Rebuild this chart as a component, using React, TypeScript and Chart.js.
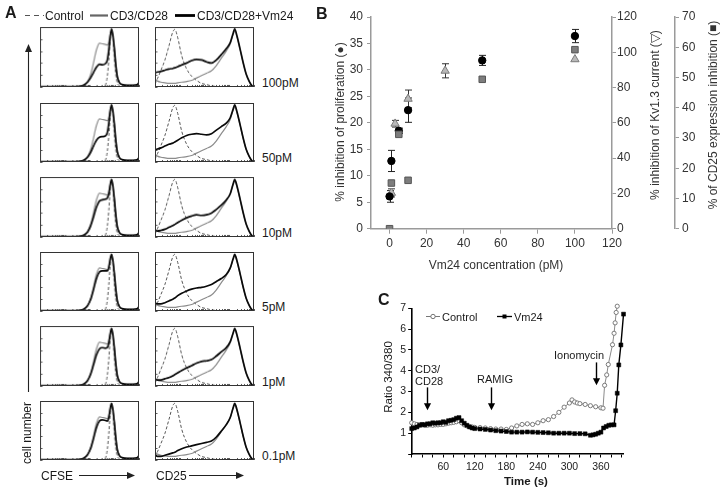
import React, { useEffect, useRef } from "react";
import { Chart, registerables } from "chart.js";
Chart.register(...registerables);

const FONT = "'Liberation Sans', Arial, Helvetica, sans-serif";

// ---------------- Panel A: flow cytometry histograms ----------------
const doseLabels = ["100pM", "50pM", "10pM", "5pM", "1pM", "0.1pM"];
const cfseChannels = [0, 200, 400, 440, 480, 510, 540, 570, 600, 630, 660, 680, 695, 710, 722, 735, 750, 765, 780, 800, 830, 880, 940, 985, 1000];
const cfseControl = [0, 0, 0, 0, 0, 0, 0, 0, 0, 0, 3, 18, 45, 80, 96, 82, 50, 22, 7, 2, 0.5, 0.3, 0.3, 0.3, 0.3];
const cfseStim = [0.5, 0.5, 1, 3, 9, 20, 40, 62, 73, 72, 71, 70, 75, 88, 94, 86, 65, 38, 18, 8, 4, 3, 3, 4, 9];
const cfseVm24_100pM = [0.5, 0.5, 1, 3, 8, 15, 24, 33, 38, 37, 39, 45, 62, 86, 97, 88, 66, 38, 18, 8, 4, 3, 3, 4, 8];
const cfseVm24_50pM = [0.5, 0.5, 1, 3, 8, 16, 27, 37, 42, 43, 44, 50, 66, 88, 97, 88, 66, 38, 18, 8, 4, 3, 3, 4, 8];
const cfseVm24_10pM = [0.5, 0.5, 1, 3, 8, 18, 33, 50, 60, 62, 63, 65, 72, 88, 96, 87, 65, 38, 18, 8, 4, 3, 3, 4, 8];
const cfseVm24_5pM = [0.5, 0.5, 1, 3, 9, 19, 36, 55, 66, 68, 68, 68, 74, 89, 96, 87, 65, 38, 18, 8, 4, 3, 3, 4, 8];
const cfseVm24_1pM = [0.5, 0.5, 1, 3, 9, 19, 35, 52, 62, 64, 63, 64, 72, 88, 96, 87, 65, 38, 18, 8, 4, 3, 3, 4, 8];
const cfseVm24_01pM = [0.5, 0.5, 1, 3, 9, 19, 36, 55, 66, 68, 67, 66, 72, 88, 96, 87, 65, 38, 18, 8, 4, 3, 3, 4, 8];

const cd25Channels = [0, 25, 60, 100, 140, 180, 200, 230, 270, 320, 370, 420, 470, 520, 570, 620, 670, 720, 760, 790, 805, 830, 860, 890, 920, 950, 975, 1000];
const cd25Control = [5, 14, 28, 45, 68, 92, 96, 82, 52, 30, 18, 11, 6, 4, 2, 1, 0.5, 0.3, 0.3, 0.3, 0.3, 0.3, 0.3, 0.3, 0.3, 0.3, 0.3, 0];
const cd25Stim = [13, 10, 8, 7, 6, 6, 6, 7, 8, 9, 11, 15, 19, 23, 27, 36, 48, 60, 72, 88, 93, 82, 62, 40, 22, 10, 3, 0];
const cd25Vm24_100pM = [24, 25, 26, 28, 30, 31, 32, 34, 37, 40, 44, 46, 45, 42, 40, 45, 54, 64, 74, 90, 97, 84, 63, 41, 22, 10, 3, 0];
const cd25Vm24_50pM = [21, 22, 24, 27, 30, 32, 34, 37, 41, 45, 47, 48, 47, 46, 48, 54, 60, 66, 75, 90, 97, 84, 63, 41, 22, 10, 3, 0];
const cd25Vm24_10pM = [11, 10, 11, 13, 16, 19, 21, 24, 28, 32, 35, 37, 36, 37, 40, 46, 53, 62, 72, 89, 96, 84, 63, 41, 22, 10, 3, 0];
const cd25Vm24_5pM = [14, 12, 12, 14, 17, 20, 22, 26, 30, 34, 37, 39, 40, 42, 45, 50, 55, 62, 73, 89, 96, 84, 63, 41, 22, 10, 3, 0];
const cd25Vm24_1pM = [11, 10, 10, 12, 14, 17, 19, 22, 26, 30, 34, 38, 41, 42, 44, 50, 57, 64, 74, 89, 96, 84, 63, 41, 22, 10, 3, 0];
const cd25Vm24_01pM = [9, 6, 6, 8, 10, 12, 13, 16, 19, 22, 24, 26, 28, 30, 32, 39, 49, 60, 72, 89, 96, 84, 63, 41, 22, 10, 3, 0];

const cfseVm24Rows = [cfseVm24_100pM, cfseVm24_50pM, cfseVm24_10pM, cfseVm24_5pM, cfseVm24_1pM, cfseVm24_01pM];
const cd25Vm24Rows = [cd25Vm24_100pM, cd25Vm24_50pM, cd25Vm24_10pM, cd25Vm24_5pM, cd25Vm24_1pM, cd25Vm24_01pM];
const histYTicks = [0, 20, 40, 60, 80, 100];
const histXTicks = [0, 75, 120, 150, 175, 195, 211, 226, 238, 250, 325, 370, 400, 425, 445, 461, 476, 488, 500, 575, 620, 650, 675, 695, 711, 726, 738, 750, 825, 870, 900, 925, 945, 961, 976, 988, 1000];

// ---------------- Panel B: dose response ----------------
const bXTicks = [0, 20, 40, 60, 80, 100, 120];
const prolifDose = [0, 1, 5, 10, 50, 100];
const prolifInhibition = [6.1, 12.8, 18.5, 22.4, 31.8, 36.4];
const prolifError = [1.1, 2.0, 0.5, 2.3, 0.95, 1.25];
const kvDose = [1, 3, 10, 30, 100];
const kvInhibition = [20.3, 59.5, 73.6, 89.5, 96];
const kvError = [2.3, 1.9, 5, 4, 0];
const cd25Dose = [0, 1, 5, 10, 50, 100];
const cd25Inhibition = [0, 15.1, 31.2, 16.0, 49.4, 59.2];

// ---------------- Panel C: calcium ratio ----------------
const ctrlTime = [0, 5, 10, 15, 20, 25, 30, 35, 40, 45, 50, 55, 60, 65, 70, 75, 80, 85, 90, 95, 100, 105, 110, 115, 120, 130, 140, 150, 160, 170, 180, 190, 200, 210, 220, 230, 240, 250, 260, 270, 280, 290, 300, 305, 310, 315, 320, 330, 340, 350, 360, 364, 367, 371, 374, 382, 385, 387, 389, 391];
const ctrlRatio = [1.5, 1.45, 1.42, 1.4, 1.4, 1.38, 1.38, 1.4, 1.38, 1.4, 1.4, 1.42, 1.42, 1.45, 1.48, 1.5, 1.52, 1.55, 1.6, 1.5, 1.4, 1.35, 1.32, 1.3, 1.28, 1.27, 1.25, 1.22, 1.2, 1.2, 1.18, 1.25, 1.35, 1.42, 1.45, 1.42, 1.5, 1.6, 1.65, 1.8, 2.0, 2.25, 2.45, 2.6, 2.5, 2.45, 2.42, 2.38, 2.32, 2.27, 2.22, 2.2, 3.3, 3.8, 4.3, 5.25, 5.8, 6.3, 6.8, 7.1];
const vmTime = [0, 5, 10, 15, 20, 25, 30, 35, 40, 45, 50, 55, 60, 65, 70, 75, 80, 85, 90, 95, 100, 105, 110, 115, 120, 130, 140, 150, 160, 170, 180, 190, 200, 210, 220, 230, 240, 250, 260, 270, 280, 290, 300, 310, 320, 330, 340, 345, 350, 355, 360, 365, 370, 375, 380, 385, 388, 391, 394, 398, 403];
const vmRatio = [1.22, 1.25, 1.3, 1.38, 1.42, 1.4, 1.45, 1.45, 1.5, 1.48, 1.5, 1.5, 1.55, 1.52, 1.6, 1.62, 1.65, 1.72, 1.75, 1.6, 1.48, 1.38, 1.3, 1.25, 1.22, 1.2, 1.18, 1.15, 1.12, 1.1, 1.08, 1.05, 1.05, 1.05, 1.06, 1.05, 1.04, 1.03, 1.02, 1.0, 1.0, 1.0, 1.0, 0.98, 0.98, 0.97, 0.9, 0.92, 0.95, 1.0, 1.05, 1.25, 1.32, 1.38, 1.4, 1.4, 2.08, 2.92, 4.28, 5.24, 6.72];
const cTimeTicks = [0, 20, 40, 60, 80, 100, 120, 140, 160, 180, 200, 220, 240, 260, 280, 300, 320, 340, 360, 380, 400];
const stimTimes = [30, 150, 350];
const stimArrowTop = [3.2, 3.2, 4.4];
const stimArrowTip = [2.1, 2.1, 3.3];

// ---------------- helpers ----------------
const pts = (xs: number[], ys: number[]) => xs.map((x, i) => ({ x, y: ys[i] }));

const boxPlugin = {
  id: "box",
  afterDraw(chart: any) {
    const { ctx, chartArea: a, scales } = chart;
    ctx.save();
    ctx.strokeStyle = "#333";
    ctx.lineWidth = 1;
    ctx.strokeRect(Math.round(a.left) + 0.5, Math.round(a.top) + 0.5, Math.round(a.right - a.left) - 1, Math.round(a.bottom - a.top) - 1);
    ctx.beginPath();
    histYTicks.forEach((v) => {
      const y = Math.round(scales.y.getPixelForValue(v)) + 0.5;
      ctx.moveTo(a.left, y);
      ctx.lineTo(a.left + 2.5, y);
    });
    histXTicks.forEach((v) => {
      const x = Math.round(scales.x.getPixelForValue(v)) + 0.5;
      ctx.moveTo(x, a.bottom);
      ctx.lineTo(x, a.bottom - 2);
    });
    ctx.lineWidth = 0.8;
    ctx.stroke();
    ctx.restore();
  },
};

function Hist({ left, top, width, height, xs, control, stim, vm }: any) {
  const ref = useRef<HTMLCanvasElement>(null);
  const PAD = 2;
  useEffect(() => {
    const common = { pointRadius: 0, cubicInterpolationMode: "monotone", fill: false };
    const chart = new Chart(ref.current as HTMLCanvasElement, {
      type: "line",
      data: {
        datasets: [
          { ...common, data: pts(xs, vm), borderColor: "#0a0a0a", borderWidth: 1.7 },
          { ...common, data: pts(xs, stim), borderColor: "#8c8c8c", borderWidth: 1.2 },
          { ...common, data: pts(xs, control), borderColor: "#555", borderWidth: 1, borderDash: [3, 2] },
        ],
      } as any,
      options: {
        animation: false,
        responsive: false,
        events: [],
        layout: { padding: PAD },
        plugins: { legend: { display: false }, tooltip: { enabled: false } },
        scales: {
          x: { type: "linear", min: 0, max: 1000, display: false },
          y: { min: 0, max: 100, display: false },
        },
      } as any,
      plugins: [boxPlugin],
    });
    return () => chart.destroy();
  }, []);
  return (
    <canvas
      ref={ref}
      width={width + 2 * PAD}
      height={height + 2 * PAD}
      style={{ position: "absolute", left: left - PAD, top: top - PAD, width: width + 2 * PAD, height: height + 2 * PAD }}
    />
  );
}

function T({ x, y, size = 12, weight = 400, align = "left", rot = false, color = "#1a1a1a", children }: any) {
  const tx = align === "center" ? "-50%" : align === "right" ? "-100%" : "0";
  const style: any = {
    position: "absolute",
    left: x,
    top: y,
    fontSize: size,
    fontWeight: weight,
    color,
    whiteSpace: "nowrap",
    lineHeight: 1,
    fontFamily: FONT,
    transform: rot ? "translate(-50%, -50%) rotate(-90deg)" : `translate(${tx}, -50%)`,
  };
  return <div style={style}>{children}</div>;
}

// ---------------- Panel B ----------------
const errorBarPlugin = {
  id: "errbars",
  beforeDatasetsDraw(chart: any) {
    const { ctx } = chart;
    ctx.save();
    chart.data.datasets.forEach((ds: any, di: number) => {
      if (!ds.errors) return;
      const meta = chart.getDatasetMeta(di);
      const ys = chart.scales[ds.yAxisID];
      meta.data.forEach((el: any, i: number) => {
        const e = ds.errors[i];
        if (!e) return;
        const v = ds.data[i].y;
        const y1 = ys.getPixelForValue(v + e);
        const y2 = ys.getPixelForValue(v - e);
        const x = Math.round(el.x) + 0.5;
        ctx.strokeStyle = ds.errColor;
        ctx.lineWidth = 1;
        ctx.beginPath();
        ctx.moveTo(x, y1);
        ctx.lineTo(x, y2);
        ctx.moveTo(x - 3.5, y1);
        ctx.lineTo(x + 3.5, y1);
        ctx.moveTo(x - 3.5, y2);
        ctx.lineTo(x + 3.5, y2);
        ctx.stroke();
      });
    });
    ctx.restore();
  },
};

function PanelB() {
  const ref = useRef<HTMLCanvasElement>(null);
  useEffect(() => {
    const axisCommon = (w: number, side: string) => ({
      grid: { drawOnChartArea: false, drawTicks: true, tickLength: 4, color: "#9a9a9a", lineWidth: 1 },
      border: { display: true, color: "#9a9a9a", width: 1.5 },
      ticks: { font: { family: FONT, size: 12 }, color: "#333", padding: side === "left" ? 4 : 3 },
      afterFit: (s: any) => {
        s.width = w;
      },
    });
    const chart = new Chart(ref.current as HTMLCanvasElement, {
      type: "scatter",
      data: {
        datasets: [
          {
            data: pts(cd25Dose, cd25Inhibition),
            yAxisID: "y3",
            pointStyle: "rect",
            pointRadius: 4.6,
            backgroundColor: "#7d7d7d",
            borderColor: "#555",
            borderWidth: 1,
          },
          {
            data: pts(prolifDose, prolifInhibition),
            yAxisID: "y",
            pointStyle: "circle",
            pointRadius: 3.7,
            backgroundColor: "#000",
            borderColor: "#000",
            borderWidth: 1,
            errors: prolifError,
            errColor: "#222",
          },
          {
            data: pts(kvDose, kvInhibition),
            yAxisID: "y2",
            pointStyle: "triangle",
            pointRadius: 4.8,
            backgroundColor: "#b9b9b9",
            borderColor: "#7a7a7a",
            borderWidth: 1,
            errors: kvError,
            errColor: "#333",
          },
        ],
      } as any,
      options: {
        animation: false,
        responsive: false,
        events: [],
        layout: { padding: { top: 17, left: 0, right: 0, bottom: 0 } },
        plugins: { legend: { display: false }, tooltip: { enabled: false } },
        scales: {
          x: {
            type: "linear",
            min: -10,
            max: 120,
            afterBuildTicks: (s: any) => {
              s.ticks = bXTicks.map((v) => ({ value: v }));
            },
            grid: { drawOnChartArea: false, drawTicks: true, tickLength: 5, color: "#9a9a9a" },
            border: { display: true, color: "#9a9a9a", width: 1.5 },
            ticks: { font: { family: FONT, size: 12 }, color: "#333", padding: 3, maxRotation: 0 },
            afterFit: (s: any) => {
              s.height = 51.3;
            },
          },
          y: { position: "left", min: 0, max: 40, ...axisCommon(46, "left"), ticks: { ...axisCommon(46, "left").ticks, stepSize: 5 } },
          y2: { position: "right", min: 0, max: 120, ...axisCommon(63, "right"), ticks: { ...axisCommon(63, "right").ticks, stepSize: 20, padding: 1 } },
          y3: { position: "right", min: 0, max: 70, ...axisCommon(45, "right"), ticks: { ...axisCommon(45, "right").ticks, stepSize: 10 } },
        },
      } as any,
      plugins: [errorBarPlugin],
    });
    return () => chart.destroy();
  }, []);
  return <canvas ref={ref} width={395} height={280} style={{ position: "absolute", left: 325, top: 0, width: 395, height: 280 }} />;
}

// ---------------- Panel C ----------------
const arrowPlugin = {
  id: "arrows",
  afterDraw(chart: any) {
    const { ctx, scales } = chart;
    ctx.save();
    ctx.strokeStyle = "#000";
    ctx.fillStyle = "#000";
    ctx.lineWidth = 1.4;
    stimTimes.forEach((t, i) => {
      const x = Math.round(scales.x.getPixelForValue(t)) + 0.5;
      const y0 = scales.y.getPixelForValue(stimArrowTop[i]);
      const y1 = scales.y.getPixelForValue(stimArrowTip[i]);
      ctx.beginPath();
      ctx.moveTo(x, y0);
      ctx.lineTo(x, y1 - 5);
      ctx.stroke();
      ctx.beginPath();
      ctx.moveTo(x - 3.6, y1 - 7);
      ctx.lineTo(x + 3.6, y1 - 7);
      ctx.lineTo(x, y1);
      ctx.closePath();
      ctx.fill();
    });
    ctx.restore();
  },
};

function PanelC() {
  const ref = useRef<HTMLCanvasElement>(null);
  useEffect(() => {
    const chart = new Chart(ref.current as HTMLCanvasElement, {
      type: "line",
      data: {
        datasets: [
          {
            data: pts(vmTime, vmRatio),
            borderColor: "#000",
            borderWidth: 1.4,
            pointStyle: "rect",
            pointRadius: 2.8,
            pointBackgroundColor: "#000",
            pointBorderColor: "#000",
            pointBorderWidth: 0.5,
            clip: false,
          },
          {
            data: pts(ctrlTime, ctrlRatio),
            borderColor: "#8a8a8a",
            borderWidth: 1,
            pointStyle: "circle",
            pointRadius: 2.1,
            pointBackgroundColor: "#fff",
            pointBorderColor: "#6e6e6e",
            pointBorderWidth: 0.9,
            clip: false,
          },
        ],
      } as any,
      options: {
        animation: false,
        responsive: false,
        events: [],
        layout: { padding: { top: 13.3, right: 97, left: 0, bottom: 0 } },
        plugins: { legend: { display: false }, tooltip: { enabled: false } },
        scales: {
          x: {
            type: "linear",
            min: 0,
            max: 402,
            afterBuildTicks: (s: any) => {
              s.ticks = cTimeTicks.filter((v) => v <= 402).map((v) => ({ value: v }));
            },
            grid: { drawOnChartArea: false, drawTicks: true, tickLength: 3.5, color: "#000" },
            border: { display: true, color: "#000", width: 1.6 },
            ticks: {
              font: { family: FONT, size: 10.5 },
              color: "#222",
              padding: 3,
              maxRotation: 0,
              autoSkip: false,
              callback: (v: any) => (v > 0 && v % 60 === 0 ? String(v) : ""),
            },
            afterFit: (s: any) => {
              s.height = 36;
            },
          },
          y: {
            min: 0,
            max: 7,
            grid: { drawOnChartArea: false, drawTicks: true, tickLength: 3.5, color: "#000" },
            border: { display: true, color: "#000", width: 1.6 },
            ticks: {
              stepSize: 1,
              font: { family: FONT, size: 10.5 },
              color: "#222",
              padding: 2,
              callback: (v: any) => (v === 0 ? "" : String(v)),
            },
            afterFit: (s: any) => {
              s.width = 26.7;
            },
          },
        },
      } as any,
      plugins: [arrowPlugin],
    });
    return () => chart.destroy();
  }, []);
  return <canvas ref={ref} width={335} height={195} style={{ position: "absolute", left: 385, top: 295, width: 335, height: 195 }} />;
}

// ---------------- App ----------------
const rowTops = [27, 102.5, 177.3, 251.7, 326, 400.7];

export default function App() {
  return (
    <div style={{ position: "absolute", left: 0, top: 0, width: 720, height: 490, background: "#fff", overflow: "hidden", fontFamily: FONT }}>
      {rowTops.map((top, r) => (
        <React.Fragment key={r}>
          <Hist left={40} top={top} width={98.5} height={59.5} xs={cfseChannels} control={cfseControl} stim={cfseStim} vm={cfseVm24Rows[r]} />
          <Hist left={155} top={top} width={99} height={59.5} xs={cd25Channels} control={cd25Control} stim={cd25Stim} vm={cd25Vm24Rows[r]} />
          <T x={262} y={top + 55.5} size={12}>{doseLabels[r]}</T>
        </React.Fragment>
      ))}
      <PanelB />
      <PanelC />

      <svg width={720} height={490} style={{ position: "absolute", left: 0, top: 0, pointerEvents: "none" }}>
        {/* Panel A legend */}
        <line x1={25} y1={15.5} x2={44} y2={15.5} stroke="#555" strokeWidth={1.2} strokeDasharray="5,4" />
        <line x1={90} y1={15.5} x2={108} y2={15.5} stroke="#666" strokeWidth={2.2} />
        <line x1={175} y1={15.5} x2={195} y2={15.5} stroke="#000" strokeWidth={2.8} />
        {/* cell number arrow */}
        <line x1={28.5} y1={392} x2={28.5} y2={50} stroke="#222" strokeWidth={1.1} />
        <polygon points="28.5,44 25,52 32,52" fill="#222" />
        {/* CFSE / CD25 arrows */}
        <line x1={79} y1={475.5} x2={129} y2={475.5} stroke="#222" strokeWidth={1.1} />
        <polygon points="135,475.5 127,472 127,479" fill="#222" />
        <line x1={189} y1={475.5} x2={238} y2={475.5} stroke="#222" strokeWidth={1.1} />
        <polygon points="244,475.5 236,472 236,479" fill="#222" />
        {/* Panel C legend marks */}
        <line x1={426} y1={316.5} x2={440} y2={316.5} stroke="#777" strokeWidth={1} />
        <circle cx={433} cy={316.5} r={2.2} fill="#fff" stroke="#666" strokeWidth={0.9} />
        <line x1={497} y1={316.5} x2={512} y2={316.5} stroke="#000" strokeWidth={1.3} />
        <rect x={502.5} y={314.5} width={4} height={4} fill="#000" />
      </svg>

      {/* Panel labels */}
      <T x={5} y={13} size={16} weight={700}>A</T>
      <T x={316} y={14} size={16} weight={700}>B</T>
      <T x={378} y={300} size={16} weight={700}>C</T>

      {/* Panel A texts */}
      <T x={45} y={15.5} size={12}>Control</T>
      <T x={110} y={15.5} size={12}>CD3/CD28</T>
      <T x={197} y={15.5} size={12}>CD3/CD28+Vm24</T>
      <T x={27} y={433} size={12} rot>cell number</T>
      <T x={41} y={475.5} size={12}>CFSE</T>
      <T x={156} y={475.5} size={12}>CD25</T>

      {/* Panel B titles */}
      <T x={340} y={122} size={12} rot color="#333">% inhibition of proliferation (●)</T>
      <T x={655} y={115} size={12} rot color="#333">% inhibition of Kv1.3 current (▽)</T>
      <T x={713} y={115} size={12} rot color="#333">% of CD25 expression inhibition (■)</T>
      <T x={496} y={265} size={12} align="center" color="#333">Vm24 concentration (pM)</T>

      {/* Panel C texts */}
      <T x={389} y={377} size={11.5} rot>Ratio 340/380</T>
      <T x={526} y={482} size={11.5} weight={700} align="center">Time (s)</T>
      <T x={442} y={316.5} size={11}>Control</T>
      <T x={514} y={316.5} size={11}>Vm24</T>
      <T x={415} y={369} size={11}>CD3/</T>
      <T x={415} y={381} size={11}>CD28</T>
      <T x={477} y={379} size={11}>RAMIG</T>
      <T x={554} y={355} size={11}>Ionomycin</T>
    </div>
  );
}
